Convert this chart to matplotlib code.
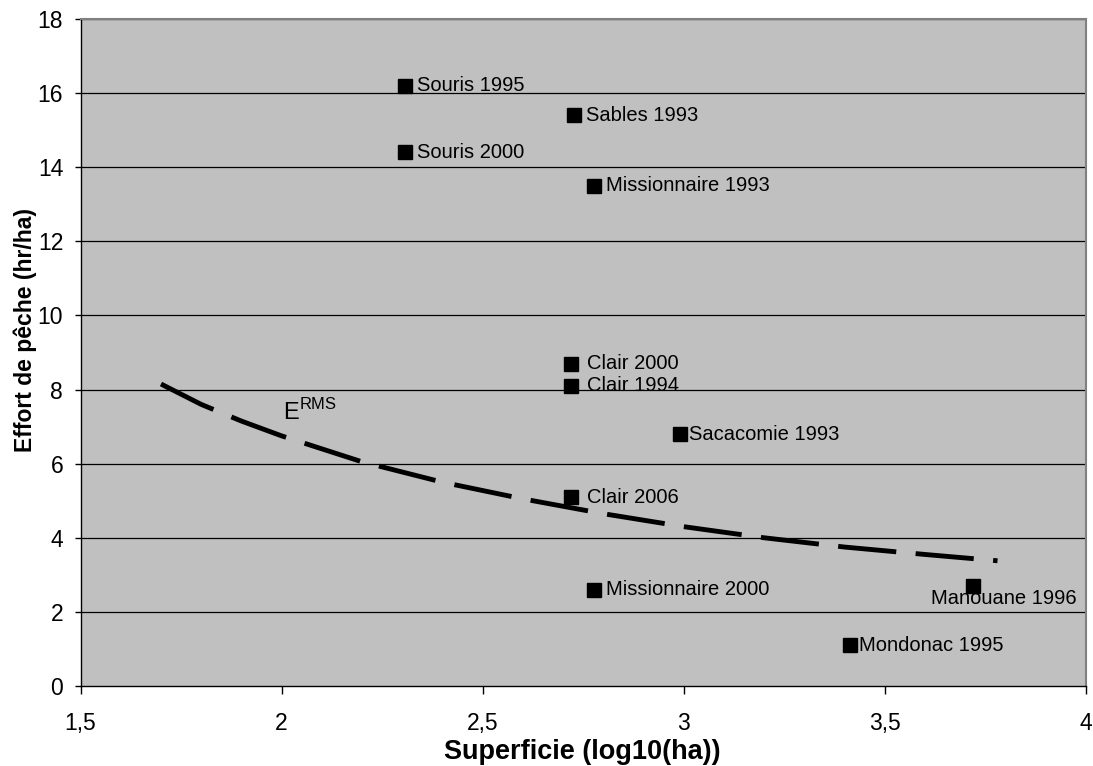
import matplotlib
matplotlib.use("Agg")
import matplotlib.pyplot as plt

plt.rcParams["font.family"] = ["Liberation Sans", "DejaVu Sans"]
plt.rcParams["mathtext.fontset"] = "custom"
plt.rcParams["mathtext.rm"] = "Liberation Sans"

# lakes: log10(area) vs fishing effort
lake_names = ["Souris 1995", "Souris 2000", "Sables 1993", "Missionnaire 1993",
              "Clair 2000", "Clair 1994", "Sacacomie 1993", "Clair 2006",
              "Missionnaire 2000", "Manouane 1996", "Mondonac 1995"]
superficie = [2.306, 2.306, 2.726, 2.776, 2.719, 2.719, 2.991, 2.719, 2.776, 3.719, 3.414]
effort = [16.2, 14.4, 15.4, 13.5, 8.7, 8.1, 6.8, 5.1, 2.6, 2.7, 1.1]

# E_RMS curve
curve_x = [1.70, 1.80, 1.90, 2.00, 2.20, 2.40, 2.60, 2.80, 3.00, 3.20, 3.40, 3.60, 3.78]
curve_y = [8.15, 7.60, 7.15, 6.75, 6.05, 5.50, 5.05, 4.65, 4.30, 4.00, 3.75, 3.55, 3.38]

x_ticks = [1.5, 2, 2.5, 3, 3.5, 4]
x_tick_labels = ["1,5", "2", "2,5", "3", "3,5", "4"]
y_ticks = list(range(0, 19, 2))

# label offsets in pixels (dx, dy)
label_offsets = [(12, 0), (12, 0), (12, 0), (12, 0), (16, 0), (16, 0), (9, 0),
                 (16, 0), (12, 0), (-42, -13), (9, 0)]

fig = plt.figure(figsize=(10.93, 7.66), dpi=100)
ax = fig.add_axes([0.0737, 0.1044, 0.9199, 0.8708])
ax.set_facecolor("#c0c0c0")

ax.set_xlim(1.5, 4)
ax.set_ylim(0, 18)
for y in y_ticks[1:]:
    ax.axhline(y, color="#000000", lw=0.9, zorder=1)

ax.plot(curve_x, curve_y, color="black", lw=3.5, dashes=(12, 4),
        solid_capstyle="butt", dash_capstyle="butt", zorder=2)
ax.plot(superficie, effort, ls="none", marker="s", ms=9.5, color="black", zorder=3)

px = 72 / 100
for name, x, y, (dx, dy) in zip(lake_names, superficie, effort, label_offsets):
    ax.annotate(name, (x, y), xytext=(dx * px, dy * px), textcoords="offset points",
                ha="left", va="center", fontsize=14.5, zorder=4)

ax.text(2.004, 7.18, r"E$^{\mathrm{RMS}}$", fontsize=17, ha="left", va="baseline")

ax.set_xticks(x_ticks)
ax.set_xticklabels(x_tick_labels)
ax.set_yticks(y_ticks)
ax.tick_params(axis="x", length=6, width=1, pad=12.5, labelsize=16.5)
ax.tick_params(axis="y", length=4.5, width=1, pad=8, labelsize=16.5)

for side in ("left", "bottom"):
    ax.spines[side].set_color("black")
    ax.spines[side].set_linewidth(1)
for side in ("top", "right"):
    ax.spines[side].set_color("#808080")
    ax.spines[side].set_linewidth(1.5)

fig.text(0.533, 0.018, "Superficie (log10(ha))", fontsize=19.5, fontweight="bold",
         ha="center", va="center")
fig.text(0.023, 0.569, "Effort de pêche (hr/ha)", fontsize=16.5, fontweight="bold",
         ha="center", va="center", rotation=90)

fig.savefig("out.png", dpi=100)
